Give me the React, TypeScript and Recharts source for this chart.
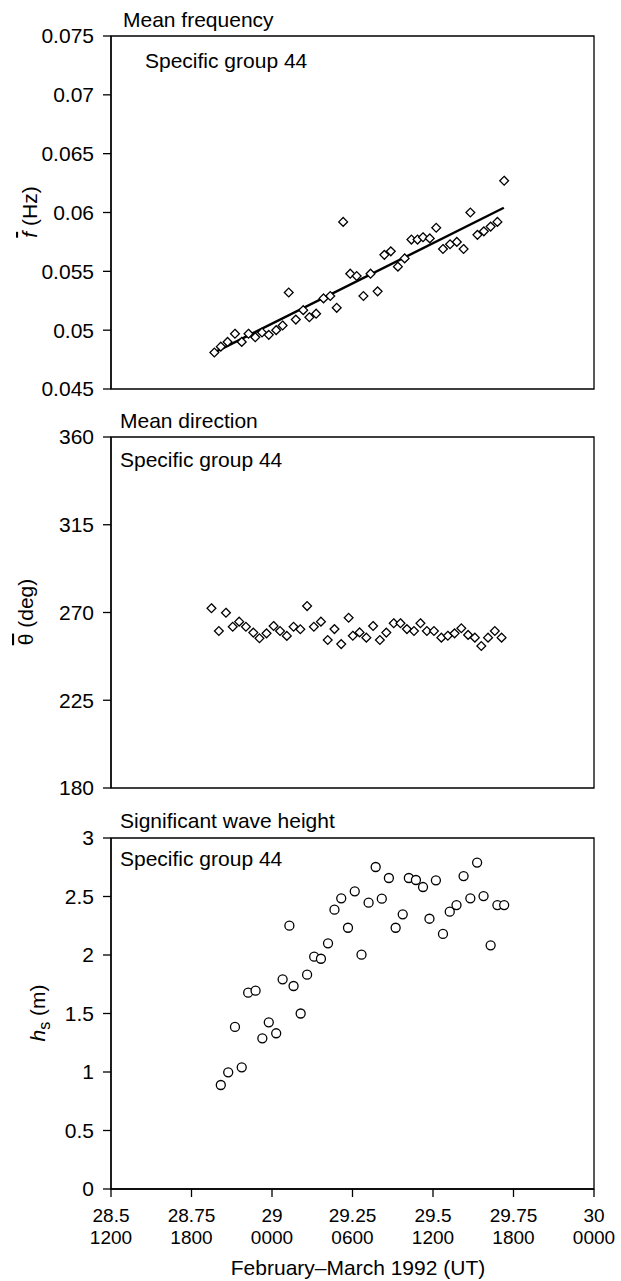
import React from "react"
import { ReferenceArea, ReferenceLine, Scatter, ScatterChart, XAxis, YAxis } from "recharts"

const xTicks = [28.5, 28.75, 29, 29.25, 29.5, 29.75, 30]
const xTickTimes = ["1200", "1800", "0000", "0600", "1200", "1800", "0000"]

// mean frequency (Hz)
const freqTime = [28.821, 28.841, 28.862, 28.885, 28.906, 28.927, 28.948, 28.969, 28.99, 29.013, 29.033, 29.052, 29.074, 29.097, 29.116, 29.137, 29.16, 29.181, 29.201, 29.221, 29.243, 29.263, 29.284, 29.306, 29.328, 29.349, 29.369, 29.391, 29.412, 29.433, 29.452, 29.469, 29.49, 29.51, 29.531, 29.553, 29.574, 29.595, 29.616, 29.638, 29.658, 29.679, 29.7, 29.721]
const freqValue = [0.0481, 0.0486, 0.049, 0.0497, 0.049, 0.0497, 0.0494, 0.0498, 0.0496, 0.05, 0.0504, 0.0532, 0.0509, 0.0517, 0.0511, 0.0514, 0.0527, 0.0529, 0.0519, 0.0592, 0.0548, 0.0546, 0.0529, 0.0548, 0.0533, 0.0564, 0.0567, 0.0554, 0.0561, 0.0577, 0.0577, 0.0579, 0.0578, 0.0587, 0.0569, 0.0573, 0.0575, 0.0569, 0.06, 0.0581, 0.0584, 0.0588, 0.0592, 0.0627]
const fitTime = [28.828, 29.72]
const fitValue = [0.0482, 0.0604]
const freqTicks = [0.045, 0.05, 0.055, 0.06, 0.065, 0.07, 0.075]

// mean direction (deg)
const dirTime = [28.812, 28.835, 28.857, 28.878, 28.898, 28.919, 28.942, 28.961, 28.983, 29.005, 29.025, 29.046, 29.067, 29.088, 29.109, 29.13, 29.152, 29.173, 29.194, 29.215, 29.238, 29.251, 29.272, 29.293, 29.314, 29.335, 29.355, 29.378, 29.399, 29.419, 29.441, 29.461, 29.481, 29.503, 29.526, 29.546, 29.567, 29.588, 29.609, 29.63, 29.65, 29.671, 29.692, 29.713]
const dirValue = [272.2, 260.5, 269.9, 262.7, 265.3, 262.7, 259.7, 256.8, 259.3, 263.1, 260.5, 258.0, 262.7, 261.4, 273.3, 262.7, 265.3, 255.9, 261.5, 253.8, 267.3, 258.1, 259.8, 257.1, 263.1, 255.9, 259.7, 264.5, 264.5, 261.5, 260.5, 264.5, 260.5, 260.5, 257.1, 258.1, 259.3, 261.9, 258.5, 257.1, 252.8, 257.1, 260.5, 257.1]
const dirTicks = [180, 225, 270, 315, 360]

// significant wave height (m)
const hsTime = [28.841, 28.864, 28.885, 28.906, 28.926, 28.949, 28.97, 28.99, 29.013, 29.033, 29.054, 29.067, 29.089, 29.109, 29.131, 29.152, 29.174, 29.194, 29.215, 29.236, 29.257, 29.278, 29.3, 29.322, 29.341, 29.363, 29.384, 29.406, 29.425, 29.447, 29.469, 29.489, 29.509, 29.531, 29.552, 29.573, 29.595, 29.616, 29.637, 29.657, 29.679, 29.7, 29.721]
const hsValue = [0.889, 0.997, 1.385, 1.04, 1.678, 1.695, 1.288, 1.425, 1.331, 1.792, 2.251, 1.735, 1.5, 1.832, 1.986, 1.968, 2.1, 2.387, 2.484, 2.233, 2.544, 2.003, 2.447, 2.752, 2.481, 2.658, 2.233, 2.348, 2.658, 2.641, 2.581, 2.31, 2.638, 2.18, 2.37, 2.427, 2.675, 2.484, 2.79, 2.504, 2.083, 2.427, 2.427]
const hsTicks = [0, 0.5, 1, 1.5, 2, 2.5, 3]

const FONT = "'Liberation Sans', Arial, Helvetica, sans-serif"
const FS = 21
const INK = "#000"
const LINE = { stroke: INK, strokeWidth: 1.3 }
const TICK = { fill: INK, fontSize: FS, fontFamily: FONT }

const pairs = (xs: number[], ys: number[]) => xs.map((x, i) => ({ x, y: ys[i] }))

const Diamond = (p: any) => {
  const { cx, cy } = p
  const r = 4.4
  return (
    <path
      d={`M${cx},${cy - r}L${cx + r},${cy}L${cx},${cy + r}L${cx - r},${cy}Z`}
      fill="#fff"
      stroke={INK}
      strokeWidth={1.3}
    />
  )
}

const Ring = (p: any) => <circle cx={p.cx} cy={p.cy} r={4.5} fill="#fff" stroke={INK} strokeWidth={1.3} />

// date on the first line, UT hour on the second
const TwoLineTick = (p: any) => {
  const { x, y, payload } = p
  const i = xTicks.indexOf(payload.value)
  return (
    <g>
      <text x={x} y={y + 23} textAnchor="middle" fill={INK} fontSize={19} fontFamily={FONT}>
        {String(payload.value)}
      </text>
      <text x={x} y={y + 45} textAnchor="middle" fill={INK} fontSize={19} fontFamily={FONT}>
        {xTickTimes[i]}
      </text>
    </g>
  )
}

const W = 621
const MARGIN_LR = { left: 0, right: 27 }

function Panel({
  top,
  height,
  marginTop,
  marginBottom,
  xHeight,
  domain,
  ticks,
  data,
  shape,
  bottom,
  fit,
}: any) {
  return (
    <div style={{ position: "absolute", left: 0, top }}>
      <ScatterChart
        width={W}
        height={height}
        margin={{ top: marginTop, bottom: marginBottom, ...MARGIN_LR }}
      >
        <XAxis
          type="number"
          dataKey="x"
          domain={[28.5, 30]}
          ticks={xTicks}
          interval={0}
          allowDataOverflow
          height={xHeight}
          axisLine={LINE}
          tickLine={LINE}
          tickSize={8}
          tick={bottom ? <TwoLineTick /> : false}
        />
        <YAxis
          type="number"
          dataKey="y"
          domain={domain}
          ticks={ticks}
          interval={0}
          allowDataOverflow
          width={111}
          axisLine={LINE}
          tickLine={LINE}
          tickSize={8}
          tickMargin={9}
          tick={TICK}
        />
        <ReferenceArea
          x1={28.5}
          x2={30}
          y1={domain[0]}
          y2={domain[1]}
          fill="none"
          stroke={INK}
          strokeWidth={1.3}
          ifOverflow="visible"
        />
        {fit && (
          <ReferenceLine
            segment={fit}
            stroke={INK}
            strokeWidth={2.4}
            ifOverflow="visible"
          />
        )}
        <Scatter data={data} shape={shape} isAnimationActive={false} />
      </ScatterChart>
    </div>
  )
}

export default function App() {
  const fit = pairs(fitTime, fitValue)
  return (
    <div style={{ position: "absolute", left: 0, top: 0, width: W, height: 1281, background: "#fff", fontFamily: FONT }}>
      <Panel
        top={0}
        height={400}
        marginTop={36}
        marginBottom={11}
        xHeight={0}
        domain={[0.045, 0.075]}
        ticks={freqTicks}
        data={pairs(freqTime, freqValue)}
        shape={Diamond}
        fit={fit}
      />
      <Panel
        top={400}
        height={400}
        marginTop={37}
        marginBottom={12}
        xHeight={0}
        domain={[180, 360]}
        ticks={dirTicks}
        data={pairs(dirTime, dirValue)}
        shape={Diamond}
      />
      <Panel
        top={800}
        height={481}
        marginTop={38}
        marginBottom={0}
        xHeight={92}
        domain={[0, 3]}
        ticks={hsTicks}
        data={pairs(hsTime, hsValue)}
        shape={Ring}
        bottom
      />
      <svg
        width={W}
        height={1281}
        style={{ position: "absolute", left: 0, top: 0, pointerEvents: "none" }}
        fontFamily={FONT}
        fontSize={FS}
        fill={INK}
      >
        <text x={123} y={27}>Mean frequency</text>
        <text x={145} y={68}>Specific group 44</text>
        <text x={120} y={428}>Mean direction</text>
        <text x={120} y={467}>Specific group 44</text>
        <text x={120} y={828}>Significant wave height</text>
        <text x={120} y={866}>Specific group 44</text>

        <text transform="rotate(-90 37 212)" x={37} y={212} textAnchor="middle">
          <tspan fontStyle="italic" style={{ textDecoration: "overline" }}>f</tspan>
          <tspan> (Hz)</tspan>
        </text>
        <text transform="rotate(-90 33 612)" x={33} y={612} textAnchor="middle">
          <tspan style={{ textDecoration: "overline" }}>θ</tspan>
          <tspan> (deg)</tspan>
        </text>
        <text transform="rotate(-90 45 1013)" x={45} y={1013} textAnchor="middle">
          <tspan fontStyle="italic">h</tspan>
          <tspan fontSize={16} dy={5}>s</tspan>
          <tspan dy={-5}> (m)</tspan>
        </text>

        <text x={358} y={1275} textAnchor="middle">February–March 1992 (UT)</text>
      </svg>
    </div>
  )
}
